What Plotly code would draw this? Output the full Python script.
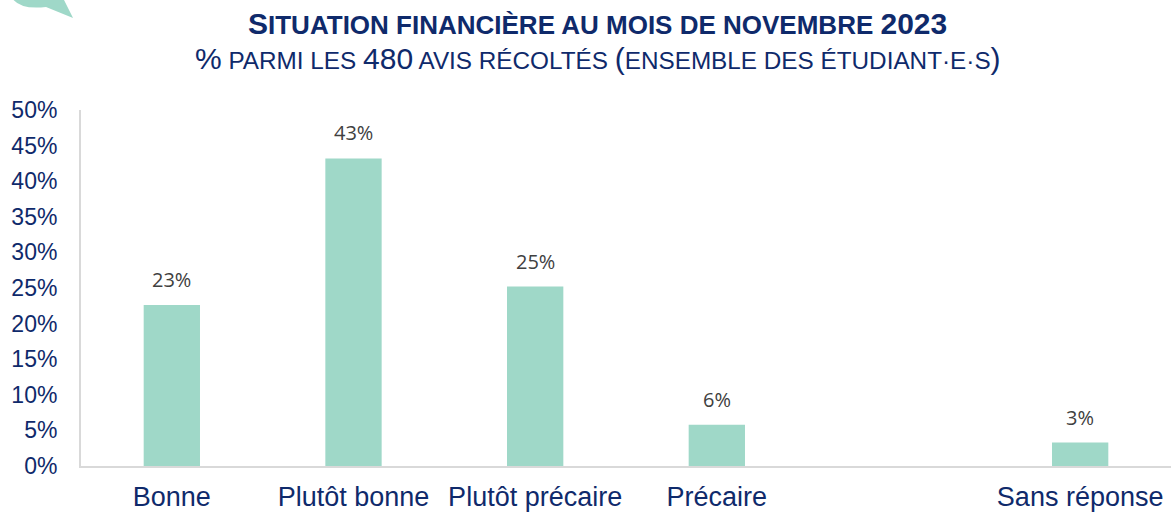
import plotly.graph_objects as go

# Survey results: share of the 480 responses per answer
categories = ["Bonne", "Plutôt bonne", "Plutôt précaire", "Précaire", " ", "Sans réponse"]
shares = [22.6, 43.2, 25.2, 5.8, None, 3.3]
y_ticks = [0, 5, 10, 15, 20, 25, 30, 35, 40, 45, 50]
y_tick_labels = [f"{t}%" for t in y_ticks]

NAVY = "#0f2a6b"
TEAL = "#9fd8c8"

W, H = 1171, 514
M = dict(l=81, r=0, t=110, b=48)

fig = go.Figure(
    go.Bar(
        x=categories,
        y=shares,
        marker=dict(color=TEAL, line=dict(width=0)),
        hoverinfo="skip",
    )
)

# value labels above the bars
for cat, v in zip(categories, shares):
    if v is None:
        continue
    fig.add_annotation(
        x=cat, y=v, text=f"{round(v)}%", showarrow=False,
        yanchor="bottom", yshift=10,
        font=dict(family="Open Sans, sans-serif", size=20, color="#404040"),
    )


def px_to_paper(x, y):
    pw = W - M["l"] - M["r"]
    ph = H - M["t"] - M["b"]
    return (x - M["l"]) / pw, (H - M["b"] - y) / ph


def small_caps(parts, big, small):
    out = []
    for txt, is_big in parts:
        size = big if is_big else small
        out.append(f"<span style='font-size:{size}px'>{txt}</span>")
    return "".join(out)


title_text = "<b>" + small_caps(
    [("S", True), ("ITUATION FINANCIÈRE AU MOIS DE NOVEMBRE ", False), ("2023", True)],
    30, 26) + "</b>"
subtitle_text = small_caps(
    [("%", True), (" PARMI LES ", False), ("480", True), (" AVIS RÉCOLTÉS ", False),
     ("(", True), ("ENSEMBLE DES ÉTUDIANT·E·S", False), (")", True)],
    30, 24.3)

tx, ty = px_to_paper(597, 24)
sx, sy = px_to_paper(598, 59)

# speech-bubble ornament in the top-left corner
b0 = px_to_paper(12, -2)
bc = px_to_paper(20, 10)
b1 = px_to_paper(46, 7)
b2 = px_to_paper(73, 18)
b3 = px_to_paper(63, -2)
path = (f"M {b0[0]:.4f},{b0[1]:.4f} Q {bc[0]:.4f},{bc[1]:.4f} {b1[0]:.4f},{b1[1]:.4f} "
        f"L {b2[0]:.4f},{b2[1]:.4f} L {b3[0]:.4f},{b3[1]:.4f} Z")

fig.add_annotation(text=title_text, x=tx, y=ty, xref="paper", yref="paper",
                   xanchor="center", yanchor="middle", showarrow=False,
                   font=dict(size=30, color=NAVY, family="Liberation Sans, Arial, sans-serif"))
fig.add_annotation(text=subtitle_text, x=sx, y=sy, xref="paper", yref="paper",
                   xanchor="center", yanchor="middle", showarrow=False,
                   font=dict(size=30, color=NAVY, family="Liberation Sans, Arial, sans-serif"))

fig.update_layout(
    width=W,
    height=H,
    margin=M,
    paper_bgcolor="white",
    plot_bgcolor="white",
    showlegend=False,
    bargap=0.69,
    font=dict(family="Liberation Sans, Arial, sans-serif", color=NAVY),
    shapes=[
        dict(type="path", path=path, xref="paper", yref="paper",
             fillcolor=TEAL, line=dict(width=0), layer="above"),
    ],
    xaxis=dict(
        type="category",
        categoryorder="array",
        categoryarray=categories,
        showline=True,
        linecolor="#d9d9d9",
        linewidth=2,
        showgrid=False,
        ticks="",
        tickfont=dict(size=27, color=NAVY),
        ticklabelstandoff=6,
        automargin=False,
        fixedrange=True,
    ),
    yaxis=dict(
        range=[0, 50],
        tickvals=y_ticks,
        ticktext=y_tick_labels,
        showline=True,
        linecolor="#d9d9d9",
        linewidth=2,
        showgrid=False,
        zeroline=False,
        ticks="",
        tickfont=dict(size=23, color=NAVY),
        ticklabelstandoff=17,
        automargin=False,
        fixedrange=True,
    ),
)

fig.write_html("out.html", config={"displayModeBar": False})
